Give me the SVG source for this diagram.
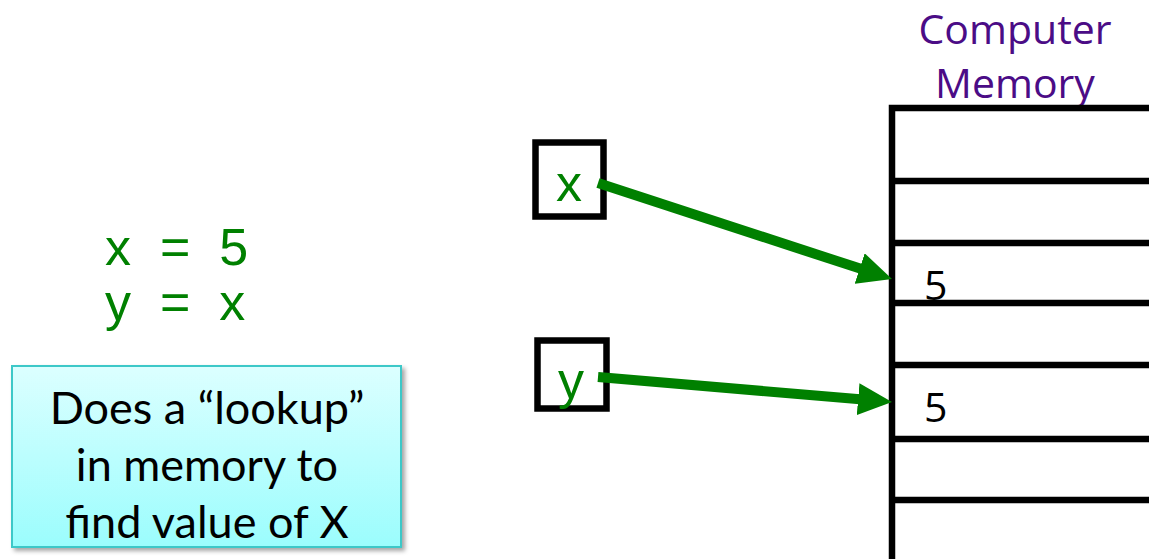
<svg xmlns="http://www.w3.org/2000/svg" width="1149" height="559" viewBox="0 0 1149 559">
  <style>
    .code { font-family: "Liberation Sans", Arial, sans-serif; font-size: 52px; fill: #008000; }
    .cell { fill: none; stroke: #000; stroke-width: 6.5; }
    .val { font-family: "Open Sans", "Noto Sans", sans-serif; font-size: 41px; fill: #000; }
    .title { font-family: "Open Sans", "Noto Sans", sans-serif; font-size: 41px; fill: #4B0C86; text-anchor: middle; }
    .note { font-family: "Lato", "Open Sans", sans-serif; font-size: 45px; fill: #000; text-anchor: middle; }
    .arrow { stroke: #008000; stroke-width: 10; fill: none; marker-end: url(#head); }
  </style>
  <defs>
    <marker id="head" markerUnits="userSpaceOnUse" markerWidth="34" markerHeight="32" refX="2" refY="16" orient="auto">
      <path d="M0,0 L34,16 L0,32 Z" fill="#008000"/>
    </marker>
    <linearGradient id="noteFill" x1="0" y1="0" x2="0" y2="1">
      <stop offset="0" stop-color="#DCFFFF"/>
      <stop offset="1" stop-color="#9BFDFD"/>
    </linearGradient>
    <filter id="shadow" x="-10%" y="-10%" width="120%" height="130%">
      <feDropShadow dx="3" dy="3" stdDeviation="2" flood-color="#000" flood-opacity="0.35"/>
    </filter>
  </defs>

  <rect width="1149" height="559" fill="#fff"/>

  <!-- assignment statements -->
  <g id="code">
    <text class="code" x="105" y="265" xml:space="preserve">x  =  5</text>
    <text class="code" x="105" y="320" xml:space="preserve">y  =  x</text>
  </g>

  <!-- explanation callout -->
  <g id="note">
    <rect x="12" y="366" width="389" height="181" fill="url(#noteFill)" stroke="#3CC8C8" stroke-width="2" filter="url(#shadow)"/>
    <text class="note" x="207" y="424">Does a “lookup”</text>
    <text class="note" x="207" y="481">in memory to</text>
    <text class="note" x="207" y="538">find value of X</text>
  </g>

  <!-- variable name boxes -->
  <g id="var-x">
    <rect class="cell" x="535.5" y="142.5" width="68" height="74"/>
    <text class="code" x="569" y="201" text-anchor="middle">x</text>
  </g>
  <g id="var-y">
    <rect class="cell" x="537.5" y="340.5" width="69" height="68"/>
    <text class="code" x="571" y="398" text-anchor="middle">y</text>
  </g>

  <!-- memory column -->
  <g id="memory">
    <text class="title" x="1015" y="44">Computer</text>
    <text class="title" x="1015" y="98">Memory</text>
    <path class="cell" d="M892,559 V108 H1160 M892,181 H1160 M892,243 H1160 M892,303 H1160 M892,365 H1160 M892,439 H1160 M892,500 H1160"/>
    <text class="val" x="924" y="300">5</text>
    <text class="val" x="924" y="422">5</text>
  </g>

  <!-- references from names to memory cells -->
  <g id="connectors">
    <line class="arrow" x1="598" y1="183" x2="861.6" y2="269.1"/>
    <line class="arrow" x1="598" y1="377" x2="860.1" y2="399.3"/>
  </g>
</svg>
